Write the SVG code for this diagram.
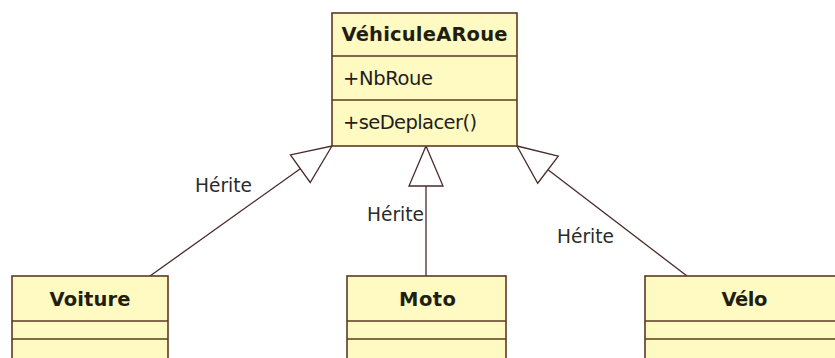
<svg xmlns="http://www.w3.org/2000/svg" width="835" height="358" viewBox="0 0 835 358">
<style>
.box{fill:#FFF9C2;stroke:#5A3A22;stroke-width:1.6}
.div{stroke:#5A3A22;stroke-width:1.6}
.t{font-family:"DejaVu Sans",Verdana,sans-serif;fill:#1e1e1e;font-size:19.5px}
.b{font-weight:bold;fill:#1f1f10}
.con{stroke:#4A2A2A;stroke-width:1.3;fill:none}
.head{stroke:#4A2A2A;stroke-width:1.3;fill:#fff}
.lbl{font-family:"DejaVu Sans",Verdana,sans-serif;fill:#2a2a2a;font-size:18.6px}
</style>
<rect width="835" height="358" fill="#fff"/>
<g id="connectors">
<line class="con" x1="150" y1="276" x2="300.3" y2="168.7"/>
<polygon class="head" points="332,146 310.2,182.5 290.4,154.9"/>
<text class="lbl" x="195" y="192" textLength="57">Hérite</text>
<line class="con" x1="426" y1="186" x2="426" y2="276"/>
<polygon class="head" points="426,146 443,186 409,186"/>
<text class="lbl" x="367" y="221" textLength="57">Hérite</text>
<line class="con" x1="548" y1="169.7" x2="687" y2="276"/>
<polygon class="head" points="517,146 558.3,156.2 537.7,183.2"/>
<text class="lbl" x="557" y="243" textLength="57">Hérite</text>
</g>
<g id="VehiculeARoue">
<rect class="box" x="332" y="13" width="185" height="133"/>
<line class="div" x1="332" y1="56" x2="517" y2="56"/>
<line class="div" x1="332" y1="100" x2="517" y2="100"/>
<text class="t b" x="424.5" y="41" text-anchor="middle" textLength="166">VéhiculeARoue</text>
<text class="t" x="343" y="85" textLength="90">+NbRoue</text>
<text class="t" x="343" y="129" textLength="134">+seDeplacer()</text>
</g>
<g id="Voiture">
<rect class="box" x="12" y="276" width="156" height="100"/>
<line class="div" x1="12" y1="321" x2="168" y2="321"/>
<line class="div" x1="12" y1="339" x2="168" y2="339"/>
<text class="t b" x="90" y="306" text-anchor="middle" textLength="81">Voiture</text>
</g>
<g id="Moto">
<rect class="box" x="347" y="276" width="159" height="100"/>
<line class="div" x1="347" y1="321" x2="506" y2="321"/>
<line class="div" x1="347" y1="339" x2="506" y2="339"/>
<text class="t b" x="427.5" y="306" text-anchor="middle" textLength="57">Moto</text>
</g>
<g id="Velo">
<rect class="box" x="645" y="276" width="200" height="100"/>
<line class="div" x1="645" y1="321" x2="845" y2="321"/>
<line class="div" x1="645" y1="339" x2="845" y2="339"/>
<text class="t b" x="744.5" y="306" text-anchor="middle" textLength="46">Vélo</text>
</g>
</svg>
